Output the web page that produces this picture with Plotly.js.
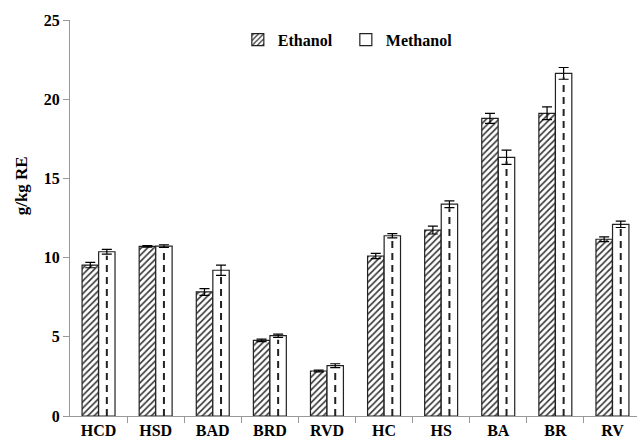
<!DOCTYPE html>
<html>
<head>
<meta charset="utf-8">
<script src="https://cdn.plot.ly/plotly-3.0.1.min.js"></script>
<style>html,body{margin:0;padding:0;background:#fff;}#chart{width:639px;height:442px;}</style>
</head>
<body>
<div id="chart"></div>
<script>
var categories = ['HCD','HSD','BAD','BRD','RVD','HC','HS','BA','BR','RV'];
var ethanol = [9.53, 10.71, 7.83, 4.77, 2.84, 10.10, 11.74, 18.79, 19.11, 11.16];
var ethanolErr = [0.17, 0.05, 0.21, 0.08, 0.05, 0.17, 0.25, 0.32, 0.40, 0.15];
var methanol = [10.37, 10.73, 9.20, 5.07, 3.18, 11.38, 13.37, 16.33, 21.63, 12.10];
var methanolErr = [0.15, 0.08, 0.32, 0.10, 0.12, 0.13, 0.21, 0.45, 0.37, 0.20];
var yTitle = 'g/kg RE';

var off = 0.145, bw = 0.287;
var idx = categories.map(function(_, i){ return i; });
var xE = idx.map(function(i){ return i - off; });
var xM = idx.map(function(i){ return i + off; });
var dashX = [], dashY = [];
methanol.forEach(function(v, i){ dashX.push(i + off, i + off, null); dashY.push(0, v - 0.25, null); });

var fontFam = 'Liberation Serif, Times New Roman, serif';
var traces = [
  {type:'bar', name:'Ethanol', x:xE, y:ethanol, width:bw,
   marker:{color:'#fff', line:{color:'#222', width:1.2},
     pattern:{shape:'/', size:4.5, solidity:0.35, fgcolor:'#333', bgcolor:'#fff'}},
   error_y:{type:'data', array:ethanolErr, visible:true, color:'#000', thickness:1.2, width:5}},
  {type:'bar', name:'Methanol', x:xM, y:methanol, width:bw,
   marker:{color:'#fff', line:{color:'#222', width:1.2}},
   error_y:{type:'data', array:methanolErr, visible:true, color:'#000', thickness:1.2, width:5}},
  {type:'scatter', mode:'lines', x:dashX, y:dashY, showlegend:false, hoverinfo:'skip',
   line:{color:'#222', width:2, dash:'7px,5px'}}
];

var layout = {
  width:639, height:442,
  margin:{l:70, r:2, t:20, b:26},
  paper_bgcolor:'#fff', plot_bgcolor:'#fff',
  showlegend:true,
  font:{family:fontFam, size:16, color:'#000', weight:'bold'},
  legend:{orientation:'h', x:0.296, y:0.95, xanchor:'left', yanchor:'middle', entrywidth:63,
    font:{family:fontFam, size:16, color:'#000', weight:'bold'}, itemwidth:30, bgcolor:'rgba(0,0,0,0)'},
  xaxis:{type:'linear', range:[-0.5, 9.43], tickmode:'array', tickvals:idx, ticktext:categories,
    ticks:'', showgrid:false, zeroline:false, showline:true, linecolor:'#999', linewidth:1,
    tickfont:{family:fontFam, size:16, color:'#000', weight:'bold'},
    minor:{tickmode:'array', tickvals:idx.map(function(i){return i+0.5;}), ticks:'outside', ticklen:6, tickcolor:'#999', tickwidth:1, showgrid:false}},
  yaxis:{range:[0,25], tickmode:'linear', tick0:0, dtick:5, ticks:'outside', ticklen:6, tickcolor:'#999',
    showgrid:false, zeroline:false, showline:true, linecolor:'#999', linewidth:1,
    tickfont:{family:fontFam, size:16, color:'#000', weight:'bold'}},
  annotations:[{text:yTitle, xref:'paper', yref:'paper', x:-0.0864, y:0.58, textangle:-90,
    showarrow:false, xanchor:'center', yanchor:'middle',
    font:{family:fontFam, size:17, color:'#000', weight:'bold'}}],
  bargap:0
};
Plotly.newPlot('chart', traces, layout, {staticPlot:true, displayModeBar:false});
</script>
</body>
</html>
